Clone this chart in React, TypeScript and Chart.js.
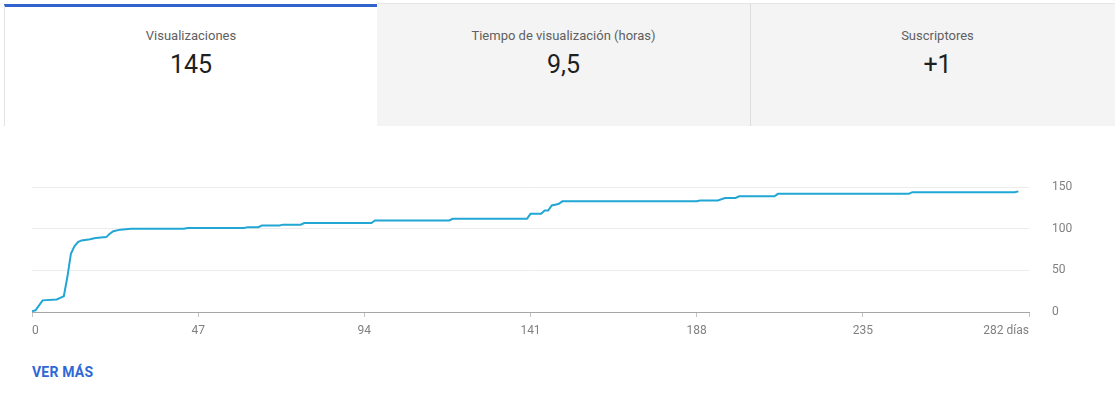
import React, { useEffect, useRef } from "react";
import { Chart, registerables } from "chart.js";

Chart.register(...registerables);

const days = [0, 1, 3, 7, 8, 9, 10, 11, 12, 13, 14, 16, 17, 18, 21, 22, 23, 25, 28, 43, 44, 60, 61, 64, 65, 70, 71, 76, 77, 96, 97, 118, 119, 140, 141, 144, 145, 146, 147, 148, 149, 150, 188, 189, 194, 196, 199, 200, 210, 211, 248, 249, 278, 279];
const views = [1, 2, 14, 15, 17, 19, 42, 70, 79, 84, 86, 87, 88, 89, 90, 94, 97, 99, 100, 100, 101, 101, 102, 102, 104, 104, 105, 105, 107, 107, 110, 110, 112, 112, 118, 118, 122, 122, 128, 129, 130, 133, 133, 134, 134, 137, 137, 139, 139, 142, 142, 144, 144, 145];

const xTicks = [0, 47, 94, 141, 188, 235, 282];
const xTickLabels = ["0", "47", "94", "141", "188", "235", "282 días"];
const yTicks = [0, 50, 100, 150];

const tabTitles = ["Visualizaciones", "Tiempo de visualización (horas)", "Suscriptores"];
const tabValues = ["145", "9,5", "+1"];

const FONT = "Roboto, 'Noto Sans', Arial, sans-serif";

export default function App() {
  const ref = useRef<HTMLCanvasElement | null>(null);

  useEffect(() => {
    if (!ref.current) return;
    const chart = new Chart(ref.current, {
      type: "line",
      data: {
        datasets: [
          {
            data: days.map((d, i) => ({ x: d, y: views[i] })),
            borderColor: "#22a6d4",
            borderWidth: 2,
            pointRadius: 0,
            tension: 0,
            fill: false,
          },
        ],
      },
      options: {
        animation: false,
        responsive: false,
        devicePixelRatio: 1,
        layout: { padding: { left: 32, top: 0, right: 0, bottom: 0 } },
        plugins: { legend: { display: false }, tooltip: { enabled: false } },
        scales: {
          x: {
            type: "linear",
            min: 0,
            max: 282,
            afterBuildTicks: (scale: any) => {
              scale.ticks = xTicks.map((v) => ({ value: v }));
            },
            afterFit: (scale: any) => {
              scale.height = 38;
            },
            ticks: {
              align: "inner",
              maxRotation: 0,
              autoSkip: false,
              padding: 7,
              color: "#808080",
              font: { family: FONT, size: 12 },
              callback: (v: any) => {
                const i = xTicks.indexOf(Number(v));
                return i >= 0 ? xTickLabels[i] : "";
              },
            },
            grid: { drawOnChartArea: false, drawTicks: true, tickLength: 5, color: "#c4c4c4" },
            border: { color: "#a6a6a6", width: 1 },
          },
          y: {
            position: "right",
            min: 0,
            max: 150,
            afterBuildTicks: (scale: any) => {
              scale.ticks = yTicks.map((v) => ({ value: v }));
            },
            afterFit: (scale: any) => {
              scale.width = 86;
            },
            ticks: {
              padding: 23,
              color: "#808080",
              font: { family: FONT, size: 12 },
            },
            grid: { drawTicks: false, color: "#ececec", lineWidth: 1 },
            border: { display: false },
          },
        },
      },
    });
    return () => chart.destroy();
  }, []);

  const tabBase: React.CSSProperties = {
    position: "absolute",
    top: 3,
    height: 123,
    boxSizing: "border-box",
    textAlign: "center",
    fontFamily: FONT,
  };

  const tabs = [
    { left: 4, width: 373, bg: "#ffffff" },
    { left: 377, width: 373, bg: "#f4f4f4" },
    { left: 750, width: 374, bg: "#f4f4f4" },
  ];

  return (
    <div style={{ position: "absolute", left: 0, top: 0, width: 1115, height: 400, overflow: "hidden", background: "#fff" }}>
      <div style={{ position: "absolute", left: 0, top: 157, width: 1115, height: 193 }}>
        <canvas ref={ref} width={1115} height={193} style={{ display: "block" }} />
      </div>
      {tabs.map((t, i) => (
        <div
          key={i}
          style={{
            ...tabBase,
            left: t.left,
            width: t.width,
            background: t.bg,
            borderLeft: i === 0 ? "1px solid #e3e3e3" : i === 2 ? "1px solid #dcdcdc" : "none",
            borderTop: i === 0 ? "3px solid #3163cf" : "1px solid #e6e6e6",
            top: i === 0 ? 4 : 3,
            height: i === 0 ? 122 : 123,
          }}
        >
          <div
            style={{
              position: "absolute",
              left: 0,
              right: 0,
              top: i === 0 ? 21 : 24,
              fontSize: 13,
              color: "#606060",
              lineHeight: "16px",
            }}
          >
            {tabTitles[i]}
          </div>
          <div
            style={{
              position: "absolute",
              left: 0,
              right: 0,
              top: i === 0 ? 43 : 46,
              fontSize: 25,
              color: "#1f1f1f",
              lineHeight: "30px",
            }}
          >
            {tabValues[i]}
          </div>
        </div>
      ))}
      <div
        style={{
          position: "absolute",
          left: 32,
          top: 363,
          fontFamily: FONT,
          fontSize: 14,
          fontWeight: 700,
          color: "#2f68d6",
          lineHeight: "18px",
          letterSpacing: 0.2,
        }}
      >
        VER MÁS
      </div>
    </div>
  );
}
